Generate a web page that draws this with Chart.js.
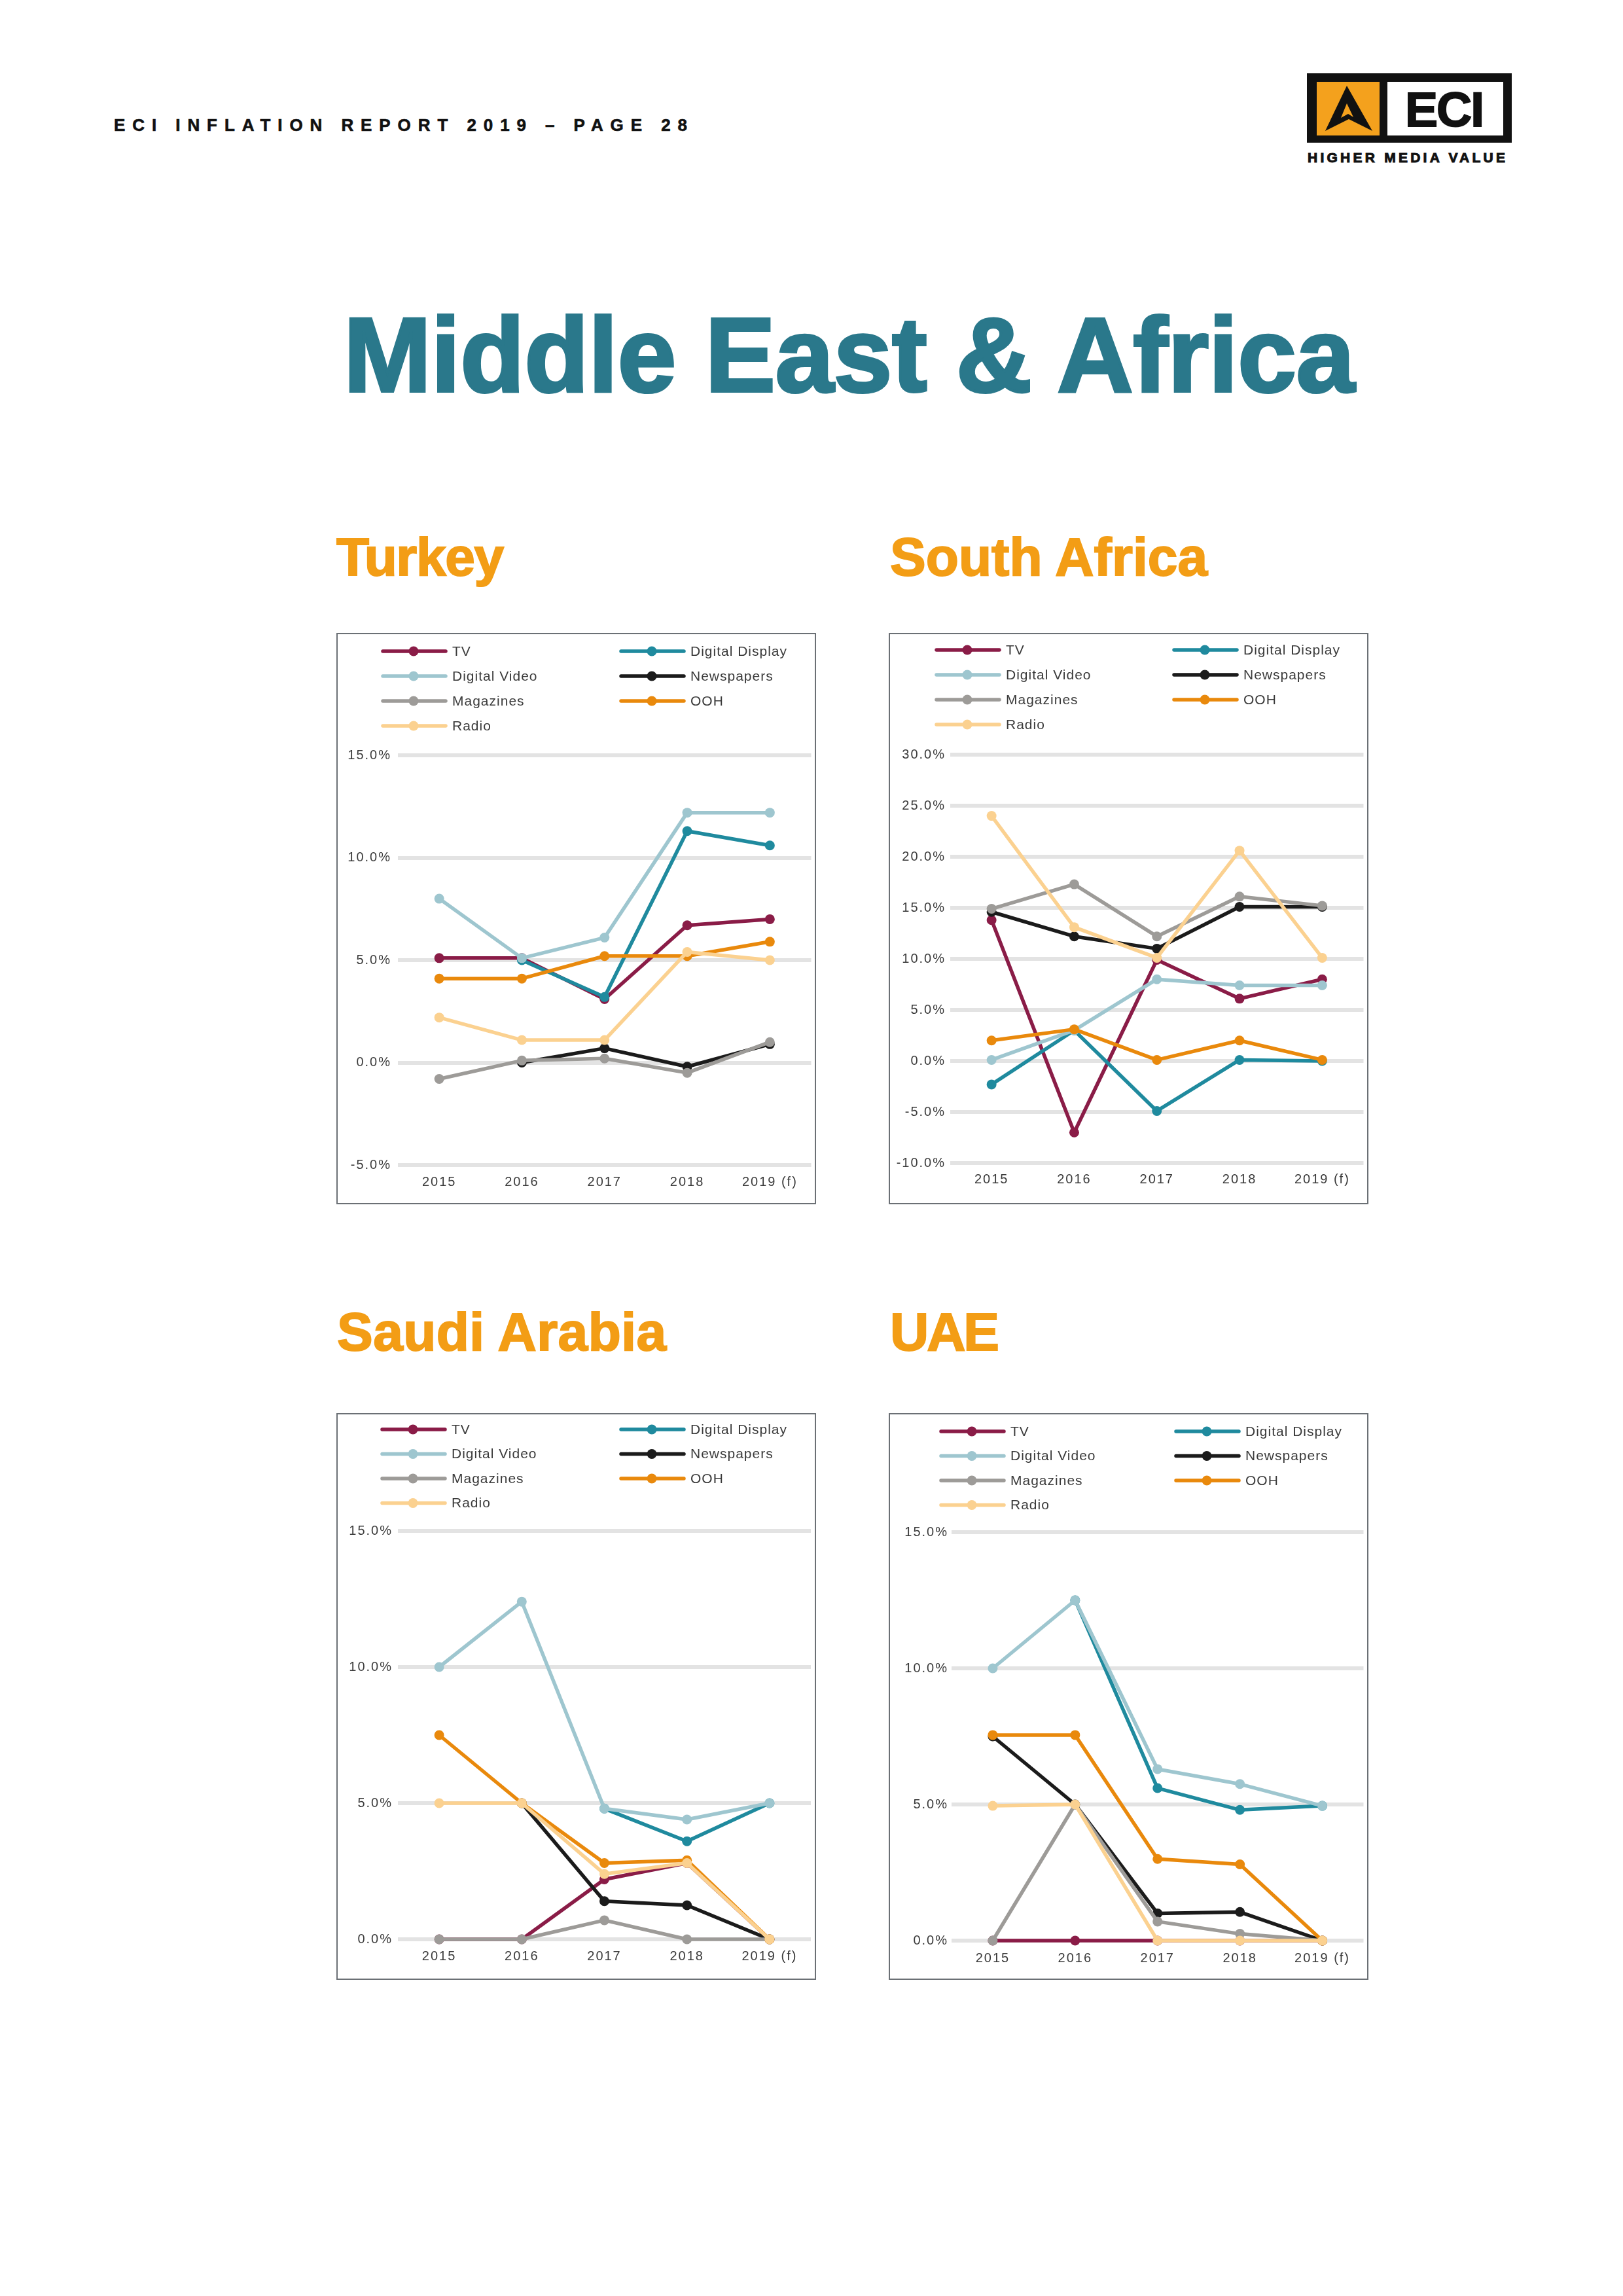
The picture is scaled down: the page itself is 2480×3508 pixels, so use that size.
<!DOCTYPE html>
<html>
<head>
<meta charset="utf-8">
<script src="https://cdn.jsdelivr.net/npm/chart.js@4.4.1/dist/chart.umd.min.js"></script>
<style>
  html, body { margin: 0; padding: 0; background: #fff; }
  body { width: 2480px; height: 3508px; position: relative; overflow: hidden; }
  svg.page { position: absolute; left: 0; top: 0; }
  .box { position: absolute; border: 2px solid #6b7075; box-sizing: border-box; }
  .box canvas { position: absolute; left: -2px; top: -2px; }
</style>
</head>
<body>
<svg class="page" width="2480" height="3508" xmlns="http://www.w3.org/2000/svg">
  <text x="174" y="200" font-family="Liberation Sans" font-weight="700" font-size="26" textLength="876" lengthAdjust="spacing" fill="#111" stroke="#111" stroke-width="0.6">ECI INFLATION REPORT 2019 – PAGE 28</text>

  <!-- logo -->
  <rect x="1997" y="112" width="313" height="106" fill="#111"/>
  <rect x="2012" y="125" width="96" height="82" fill="#f4a11d"/>
  <rect x="2120" y="125" width="177" height="82" fill="#fff"/>
  <path d="M2058 131 L2097 200 L2061 182 L2025 200 Z M2058 158 L2049 180 L2060 174 L2068 179 Z" fill="#111" fill-rule="evenodd"/>
  <text x="2147" y="193" font-family="Liberation Sans" font-weight="700" font-size="75" textLength="121" lengthAdjust="spacing" fill="#111" stroke="#111" stroke-width="2">ECI</text>
  <text x="1998" y="248" font-family="Liberation Sans" font-weight="700" font-size="21" textLength="302" lengthAdjust="spacing" fill="#111" stroke="#111" stroke-width="1">HIGHER MEDIA VALUE</text>

  <text x="525" y="598" font-family="Liberation Sans" font-weight="700" font-size="161" textLength="1545" lengthAdjust="spacing" fill="#2a788b" stroke="#2a788b" stroke-width="4">Middle East &amp; Africa</text>

  <g font-family="Liberation Sans" font-weight="700" font-size="82" fill="#f39d15" stroke="#f39d15" stroke-width="2">
    <text x="514" y="879" textLength="256" lengthAdjust="spacing">Turkey</text>
    <text x="1360" y="879" textLength="485" lengthAdjust="spacing">South Africa</text>
    <text x="515" y="2063" textLength="503" lengthAdjust="spacing">Saudi Arabia</text>
    <text x="1360" y="2063" textLength="167" lengthAdjust="spacing">UAE</text>
  </g>
</svg>

<div class="box" style="left:514px;top:967px;width:733px;height:873px;"><canvas id="turkey" width="733" height="873"></canvas></div>
<div class="box" style="left:1358px;top:967px;width:733px;height:873px;"><canvas id="southAfrica" width="733" height="873"></canvas></div>
<div class="box" style="left:514px;top:2159px;width:733px;height:866px;"><canvas id="saudi" width="733" height="866"></canvas></div>
<div class="box" style="left:1358px;top:2159px;width:733px;height:866px;"><canvas id="uae" width="733" height="866"></canvas></div>

<script>
const years = ["2015", "2016", "2017", "2018", "2019 (f)"];
const media = ["TV", "Digital Display", "Digital Video", "Newspapers", "Magazines", "OOH", "Radio"];
const mediaColours = ["#8a1c47", "#1f8a9e", "#9ec6cf", "#1b1b1b", "#9d9b98", "#e9890c", "#fbd190"];

// one row per medium, same order as `media`
const turkey = [
  [5.1, 5.1, 3.1, 6.7, 7.0],
  [null, 5.0, 3.2, 11.3, 10.6],
  [8.0, 5.1, 6.1, 12.2, 12.2],
  [null, 0.0, 0.7, -0.2, 0.9],
  [-0.8, 0.1, 0.2, -0.5, 1.0],
  [4.1, 4.1, 5.2, 5.2, 5.9],
  [2.2, 1.1, 1.1, 5.4, 5.0],
];
const southAfrica = [
  [13.8, -7.0, 9.9, 6.1, 8.0],
  [-2.3, 3.0, -4.9, 0.1, 0.0],
  [0.1, 3.0, 8.0, 7.4, 7.4],
  [14.6, 12.2, 11.0, 15.1, 15.1],
  [14.9, 17.3, 12.2, 16.1, 15.2],
  [2.0, 3.1, 0.1, 2.0, 0.1],
  [24.0, 13.1, 10.1, 20.6, 10.1],
];
const saudiArabia = [
  [0, 0, 2.2, 2.8, 0],
  [null, null, 4.8, 3.6, 5.0],
  [10.0, 12.4, 4.8, 4.4, 5.0],
  [null, 5.0, 1.4, 1.25, 0],
  [0, 0, 0.7, 0, 0],
  [7.5, 5.0, 2.8, 2.9, 0],
  [5.0, 5.0, 2.4, 2.8, 0],
];
const uae = [
  [0, 0, 0, 0, 0],
  [null, 12.5, 5.6, 4.8, 4.95],
  [10.0, 12.5, 6.3, 5.75, 4.95],
  [7.5, 5.0, 1.0, 1.05, 0],
  [0, 5.0, 0.7, 0.25, 0],
  [7.55, 7.55, 3.0, 2.8, 0],
  [4.95, 5.0, 0, 0, 0],
];

const turkeyRange = [-5, 15];
const southAfricaRange = [-10, 30];
const saudiRange = [0, 15];
const uaeRange = [0, 15];

const tickFont = { family: "Liberation Sans", size: 20 };

// spread the letters a bit, like the print version
const spacing = {
  id: "spacing",
  beforeDraw(chart) {
    chart.ctx.letterSpacing = "2px";
  },
};

// two column legend above the plot
const gridLegend = {
  id: "gridLegend",
  afterDraw(chart, args, opts) {
    const ctx = chart.ctx;
    ctx.save();
    ctx.font = '21px "Liberation Sans"';
    ctx.letterSpacing = "1px";
    ctx.textBaseline = "middle";
    chart.data.datasets.forEach((ds, i) => {
      const x = opts.cols[i % 2];
      const y = opts.top + Math.floor(i / 2) * opts.gap;
      ctx.strokeStyle = ds.borderColor;
      ctx.lineWidth = 5.5;
      ctx.lineCap = "round";
      ctx.beginPath();
      ctx.moveTo(x, y);
      ctx.lineTo(x + 96, y);
      ctx.stroke();
      ctx.fillStyle = ds.borderColor;
      ctx.beginPath();
      ctx.arc(x + 47, y, 7.5, 0, Math.PI * 2);
      ctx.fill();
      ctx.fillStyle = "#3a3a3a";
      ctx.fillText(ds.label, x + 106, y + 1);
    });
    ctx.restore();
  },
};

function makeChart(id, rows, range, geo) {
  new Chart(document.getElementById(id), {
    type: "line",
    data: {
      labels: years,
      datasets: rows.map((vals, i) => ({
        label: media[i],
        data: vals,
        borderColor: mediaColours[i],
        backgroundColor: mediaColours[i],
        borderWidth: 5.5,
        borderJoinStyle: "round",
        pointRadius: 7.5,
        pointBorderWidth: 0,
        pointHoverRadius: 7.5,
        tension: 0,
        clip: false,
        order: rows.length - i,
      })),
    },
    options: {
      responsive: false,
      animation: false,
      devicePixelRatio: 1,
      layout: { padding: { top: geo.top, right: geo.right, bottom: 0, left: 0 } },
      plugins: {
        legend: { display: false },
        tooltip: { enabled: false },
        gridLegend: geo.legend,
      },
      scales: {
        x: {
          offset: true,
          grid: { display: false },
          border: { display: false },
          ticks: { color: "#3a3a3a", font: tickFont, padding: geo.xPad, maxRotation: 0 },
          afterFit: (s) => { s.height = geo.xh; },
        },
        y: {
          min: range[0],
          max: range[1],
          grid: { color: "#e3e3e3", lineWidth: 6, drawTicks: false },
          border: { display: false },
          ticks: {
            stepSize: 5,
            padding: geo.yPad,
            color: "#3a3a3a",
            font: tickFont,
            callback: (v) => v.toFixed(1) + "%",
          },
          afterFit: (s) => { s.width = geo.left; },
        },
      },
    },
    plugins: [spacing, gridLegend],
  });
}

makeChart("turkey", turkey, turkeyRange, {
  top: 187, right: 7, left: 94, xh: 60, xPad: 6, yPad: 10,
  legend: { cols: [71, 435], top: 28, gap: 38 },
});
makeChart("southAfrica", southAfrica, southAfricaRange, {
  top: 186, right: 7, left: 94, xh: 63, xPad: 5, yPad: 7,
  legend: { cols: [73, 436], top: 26, gap: 38 },
});
makeChart("saudi", saudiArabia, saudiRange, {
  top: 180, right: 8, left: 94, xh: 62, xPad: 6, yPad: 8,
  legend: { cols: [70, 435], top: 25, gap: 37.5 },
});
makeChart("uae", uae, uaeRange, {
  top: 182, right: 7, left: 96, xh: 60, xPad: 7, yPad: 5,
  legend: { cols: [80, 439], top: 28, gap: 37.5 },
});
</script>
</body>
</html>
